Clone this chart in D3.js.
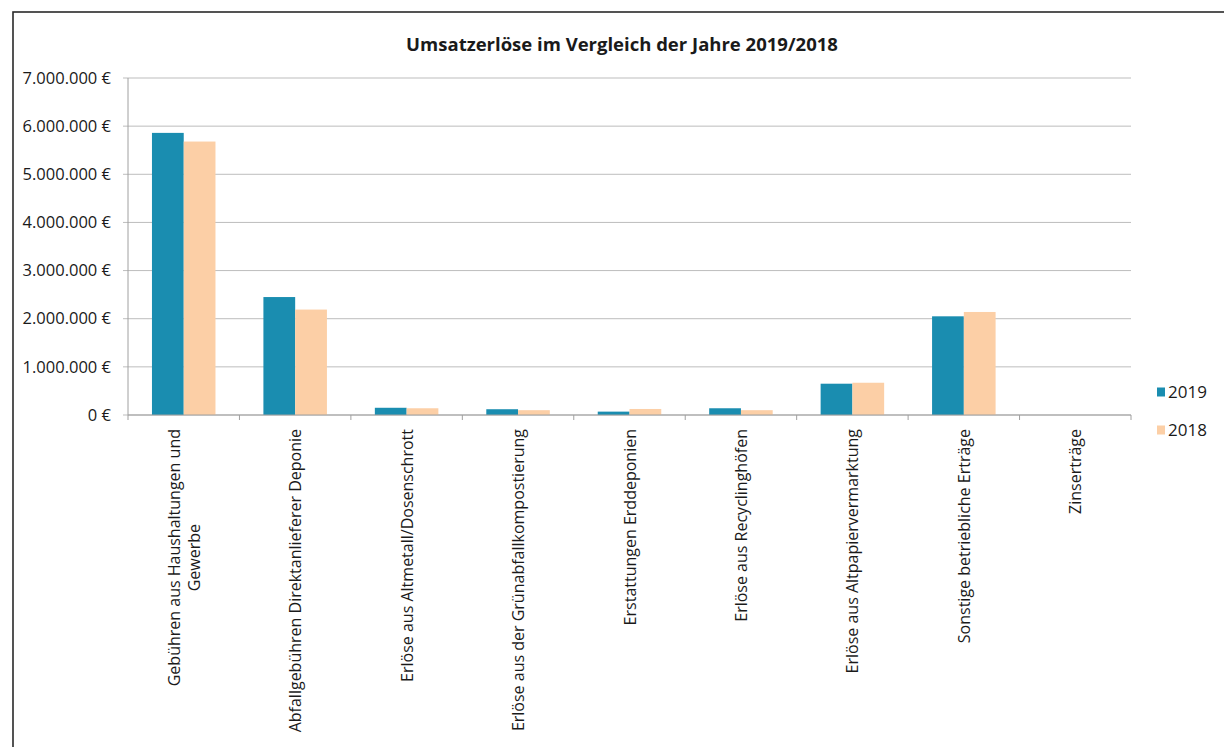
<!DOCTYPE html>
<html>
<head>
<meta charset="utf-8">
<script src="https://cdn.jsdelivr.net/npm/d3@7"></script>
<style>
  body { margin: 0; background: #fff; }
  svg text { font-family: "Open Sans", sans-serif; fill: #1a1a1a; }
</style>
</head>
<body>
<svg id="chart" width="1224" height="747"></svg>
<script>
const categories = [
  ["Gebühren aus Haushaltungen und", "Gewerbe"],
  ["Abfallgebühren Direktanlieferer Deponie"],
  ["Erlöse aus Altmetall/Dosenschrott"],
  ["Erlöse aus der Grünabfallkompostierung"],
  ["Erstattungen Erddeponien"],
  ["Erlöse aus Recyclinghöfen"],
  ["Erlöse aus Altpapiervermarktung"],
  ["Sonstige betriebliche Erträge"],
  ["Zinserträge"]
];
const values2019 = [5860000, 2450000, 150000, 120000, 70000, 140000, 650000, 2050000, 0];
const values2018 = [5680000, 2190000, 140000, 100000, 125000, 100000, 670000, 2140000, 0];
const seriesNames = ["2019", "2018"];
const seriesColors = ["#1a8db0", "#fccfa6"];
const yTicks = [0, 1000000, 2000000, 3000000, 4000000, 5000000, 6000000, 7000000];
const chartTitle = "Umsatzerlöse im Vergleich der Jahre 2019/2018";

const svg = d3.select("#chart");

// outer chart frame
svg.append("rect")
    .attr("x", 13).attr("y", 12)
    .attr("width", 1240).attr("height", 760)
    .attr("fill", "none")
    .attr("stroke", "#2a2a2a")
    .attr("stroke-width", 1.6);

const margin = { top: 78, left: 128 };
const width = 1003;
const height = 337;

const g = svg.append("g").attr("transform", `translate(${margin.left},${margin.top})`);

const x0 = d3.scaleBand()
    .domain(d3.range(categories.length))
    .range([0, width])
    .paddingInner(0)
    .paddingOuter(0);

const x1 = d3.scaleBand()
    .domain(seriesNames)
    .range([x0.bandwidth() * 0.215, x0.bandwidth() * 0.785]);

const y = d3.scaleLinear().domain([0, 7000000]).range([height, 0]);

const fmt = d => d3.format(",")(d).replace(/,/g, ".") + " €";

// gridlines
g.append("g")
    .selectAll("line")
    .data(yTicks)
    .join("line")
    .attr("x1", -5).attr("x2", width)
    .attr("y1", d => y(d)).attr("y2", d => y(d))
    .attr("stroke", "#bdbdbd")
    .attr("stroke-width", 1);

// y axis labels
g.append("g")
    .selectAll("text")
    .data(yTicks)
    .join("text")
    .attr("x", -17)
    .attr("y", d => y(d))
    .attr("dy", "0.35em")
    .attr("text-anchor", "end")
    .style("font-size", "16.5px")
    .text(d => d === 0 ? "0 €" : fmt(d));

// y axis line
g.append("line")
    .attr("x1", 0).attr("x2", 0)
    .attr("y1", 0).attr("y2", height)
    .attr("stroke", "#a0a0a0");

// bars
const data = categories.map((c, i) => ({ i, vals: [values2019[i], values2018[i]] }));
const groups = g.selectAll(".grp")
    .data(data)
    .join("g")
    .attr("transform", d => `translate(${x0(d.i)},0)`);

groups.selectAll("rect")
    .data(d => d.vals.map((v, k) => ({ key: seriesNames[k], v, k })))
    .join("rect")
    .attr("x", d => x1(d.key))
    .attr("width", x1.bandwidth())
    .attr("y", d => y(d.v))
    .attr("height", d => height - y(d.v))
    .attr("fill", d => seriesColors[d.k]);

// x axis
g.append("line")
    .attr("x1", 0).attr("x2", width)
    .attr("y1", height).attr("y2", height)
    .attr("stroke", "#a0a0a0");

g.append("g")
    .selectAll("line")
    .data(d3.range(categories.length + 1))
    .join("line")
    .attr("x1", d => d * x0.step()).attr("x2", d => d * x0.step())
    .attr("y1", height).attr("y2", height + 5)
    .attr("stroke", "#a0a0a0");

// x labels (rotated)
const labelG = g.append("g")
    .selectAll("g")
    .data(categories)
    .join("g")
    .attr("transform", (d, i) => `translate(${x0(i) + x0.bandwidth() / 2},${height + 14}) rotate(-90)`);

labelG.each(function (lines) {
  const sel = d3.select(this);
  const n = lines.length;
  const texts = lines.map((line, k) => sel.append("text")
      .attr("y", (k - (n - 1) / 2) * 20)
      .attr("dominant-baseline", "central")
      .style("font-size", "16px")
      .text(line));
  const maxW = d3.max(texts, t => t.node().getComputedTextLength());
  texts.forEach(t => t.attr("x", -maxW / 2).attr("text-anchor", "middle"));
});

// title
svg.append("text")
    .attr("x", 622)
    .attr("y", 45)
    .attr("dy", "0.35em")
    .attr("text-anchor", "middle")
    .style("font-size", "18.5px")
    .style("font-weight", "bold")
    .text(chartTitle);

// legend
const legend = svg.append("g")
    .selectAll("g")
    .data(seriesNames)
    .join("g")
    .attr("transform", (d, i) => `translate(1157,${392 + i * 38})`);

legend.append("rect")
    .attr("x", 0).attr("y", -4.5)
    .attr("width", 8).attr("height", 9)
    .attr("fill", (d, i) => seriesColors[i]);

legend.append("text")
    .attr("x", 11)
    .attr("y", 0)
    .attr("dy", "0.35em")
    .style("font-size", "17px")
    .text(d => d);
</script>
</body>
</html>
